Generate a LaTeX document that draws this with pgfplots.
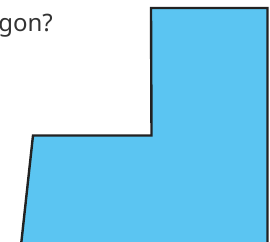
\documentclass[border=0pt]{standalone}
\usepackage{pgfplots}
\pgfplotsset{compat=1.18}
\usepackage{fontspec}
\setmainfont{Noto Sans}
\definecolor{polyfill}{HTML}{5BC5F2}
\definecolor{polyline}{HTML}{222222}
\definecolor{txt}{HTML}{333333}
\begin{document}
\begin{tikzpicture}[x=1pt,y=1pt]
\path[use as bounding box] (0,0) rectangle (270,241);
\clip (0,0) rectangle (270,241);
\begin{axis}[
  at={(0,0)}, anchor=south west,
  width=270pt, height=241pt, scale only axis,
  xmin=0, xmax=270, ymin=0, ymax=241,
  y dir=reverse,
  axis lines=none,
  clip=false,
]
\addplot[draw=polyline, line width=2.4pt, fill=polyfill, line join=miter]
  coordinates {(151,8) (267.5,8) (267.5,250) (20.5,250) (33,135.5) (151.5,135.5) (151,8)} -- cycle;
\node[anchor=base east, font=\fontsize{24}{28}\selectfont, text=txt, inner sep=0pt]
  at (axis cs:53,31) {Which shape is a polygon?};
\end{axis}
\end{tikzpicture}
\end{document}
